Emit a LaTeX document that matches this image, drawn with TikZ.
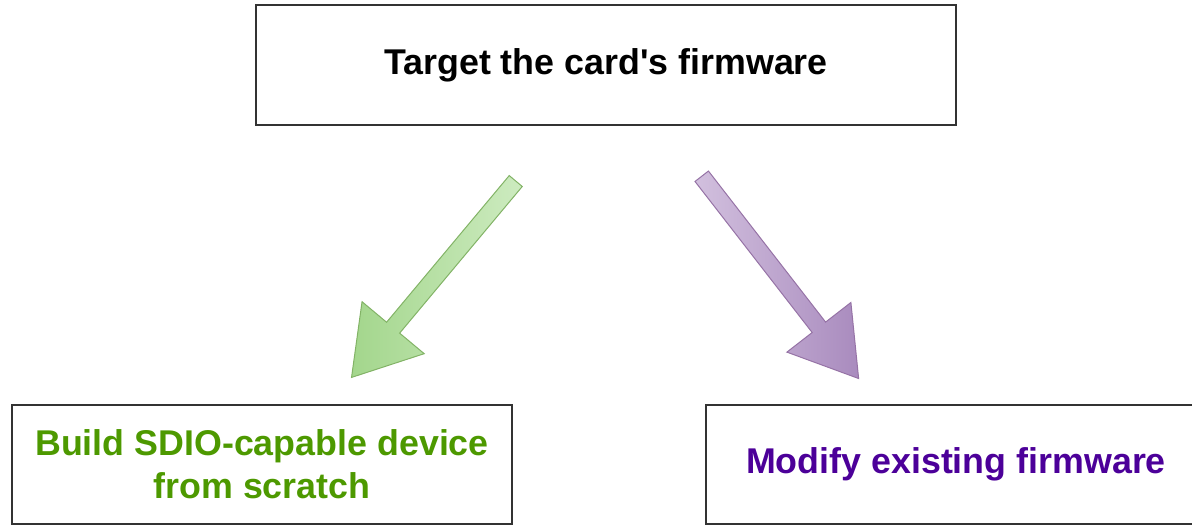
\documentclass[tikz,border=0pt]{standalone}
\usepackage{fontspec}
\setmainfont{Liberation Sans}
\usetikzlibrary{shapes.arrows}
\definecolor{optgreen}{HTML}{4D9900}
\definecolor{optpurple}{HTML}{4C0099}
\definecolor{greenline}{HTML}{82B366}
\definecolor{purpleline}{HTML}{9673A6}
\definecolor{greenhead}{HTML}{A3D68C}
\definecolor{greentail}{HTML}{CDEBC0}
\definecolor{purplehead}{HTML}{A98BBE}
\definecolor{purpletail}{HTML}{D2C0DE}
\begin{document}
\begin{tikzpicture}[x=0.5pt, y=-0.5pt]

\tikzstyle{every node}=[font=\fontsize{17.9}{21.5}\selectfont\bfseries]
\tikzstyle{goal} = [rectangle, draw=black!80, line width=1pt, text centered, align=center, inner sep=0pt]
\tikzstyle{blockarrow} = [single arrow, draw, line width=0.5pt, inner xsep=0pt, inner ysep=4pt, minimum width=40pt, minimum height=128pt, single arrow head extend=16pt, single arrow tip angle=64, single arrow head indent=0pt]

\useasboundingbox (0,0) rectangle (1192,526);

% Nodos
\node[goal, minimum width=350pt, minimum height=60pt] (target) at (606,65) {Target the card\textquotesingle s firmware};
\node[goal, minimum width=250pt, minimum height=59.5pt, text=optgreen] (scratch) at (262,464.5) {Build SDIO-capable device\\from scratch};
\node[goal, minimum width=250pt, minimum height=59.5pt, text=optpurple] (modify) at (956,464.5) {Modify existing firmware};

% Flechas
\node[blockarrow, draw=greenline, shading=axis, left color=greenhead, right color=greentail, rotate=230.1] (togreen) at (438,274) {};
\node[blockarrow, draw=purpleline, shading=axis, left color=purpletail, right color=purplehead, rotate=-52.2] (topurple) at (776,272) {};

\end{tikzpicture}
\end{document}
